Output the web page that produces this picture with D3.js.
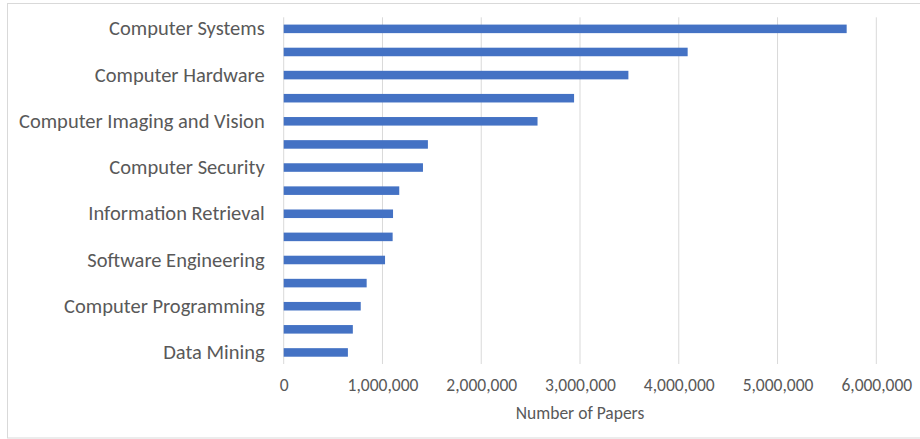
<!DOCTYPE html>
<html>
<head>
<meta charset="utf-8">
<script src="https://cdn.jsdelivr.net/npm/d3@7"></script>
<style>
  html, body { margin: 0; padding: 0; background: #fff; }
  svg { display: block; }
</style>
</head>
<body>
<svg id="chart" width="920" height="439"></svg>
<script>
// Categories top to bottom (every other label shown, as in the reference)
const categories = [
  "Computer Systems",
  "Artificial Intelligence",
  "Computer Hardware",
  "Computer Networks",
  "Computer Imaging and Vision",
  "Human Computer Interaction",
  "Computer Security",
  "Databases",
  "Information Retrieval",
  "Computational Theory",
  "Software Engineering",
  "Machine Learning",
  "Computer Programming",
  "Computer Graphics",
  "Data Mining"
];
const values = [
  5700000, 4090000, 3490000, 2940000, 2570000,
  1460000, 1410000, 1170000, 1107000, 1103000,
  1026000, 840000, 780000, 700000, 650000
];
const xTicks = [0, 1000000, 2000000, 3000000, 4000000, 5000000, 6000000];
const shownLabels = categories.filter((d, i) => i % 2 === 0);
const xTitle = "Number of Papers";

const svg = d3.select("#chart");
const W = 920, H = 439;
const m = { left: 283.7, right: 920 - 876.3, top: 17.3, bottom: 439 - 364 };
const fontFam = "Carlito, Calibri, 'Open Sans', sans-serif";

// outer chart border
svg.append("rect")
  .attr("x", 7.5).attr("y", 3.5)
  .attr("width", 930).attr("height", 434.5)
  .attr("fill", "#fff").attr("stroke", "#d9d9d9").attr("stroke-width", 1);

const x = d3.scaleLinear().domain([0, 6000000]).range([m.left, W - m.right]);
const y = d3.scaleBand().domain(categories).range([m.top, H - m.bottom]).paddingInner(0.63).paddingOuter(0.315);

// gridlines
svg.append("g").selectAll("line")
  .data(xTicks).join("line")
  .attr("x1", d => x(d)).attr("x2", d => x(d))
  .attr("y1", m.top).attr("y2", H - m.bottom)
  .attr("stroke", "#d9d9d9").attr("stroke-width", 1);

// bars
svg.append("g").selectAll("rect")
  .data(categories).join("rect")
  .attr("x", x(0))
  .attr("y", d => y(d))
  .attr("width", (d, i) => x(values[i]) - x(0))
  .attr("height", y.bandwidth())
  .attr("fill", "#4472c4");

// y-axis labels
const yAxis = d3.axisLeft(y).tickValues(shownLabels).tickSize(0).tickPadding(19);
const gy = svg.append("g").attr("transform", `translate(${m.left},0)`).call(yAxis);
gy.select(".domain").remove();
gy.selectAll("text")
  .attr("font-family", fontFam).attr("font-size", 20.5).attr("fill", "#595959");

// x-axis labels
const xAxis = d3.axisBottom(x).tickValues(xTicks).tickSize(0).tickPadding(15)
  .tickFormat(d3.format(","));
const gx = svg.append("g").attr("transform", `translate(0,${H - m.bottom})`).call(xAxis);
gx.select(".domain").remove();
gx.selectAll("text")
  .attr("font-family", fontFam).attr("font-size", 17.5).attr("fill", "#595959");

// x-axis title
svg.append("text")
  .attr("x", (x(0) + x(6000000)) / 2).attr("y", 419)
  .attr("text-anchor", "middle")
  .attr("font-family", fontFam).attr("font-size", 17.5).attr("fill", "#595959")
  .text(xTitle);
</script>
</body>
</html>
